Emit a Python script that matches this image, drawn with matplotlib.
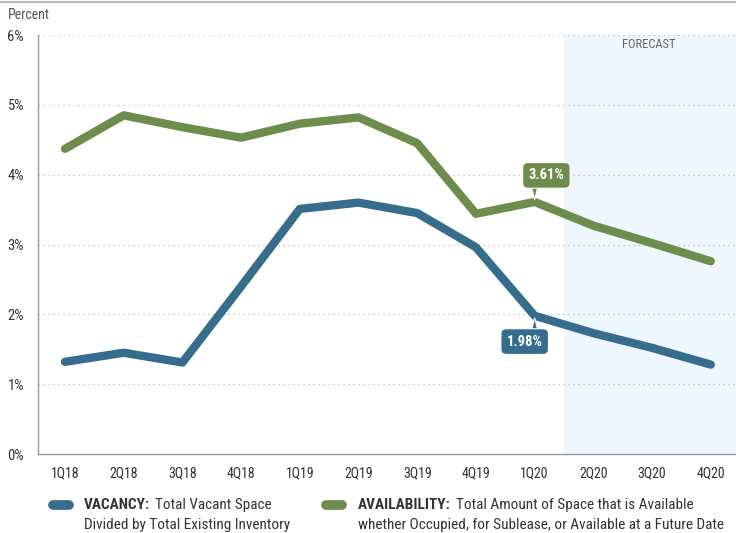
import matplotlib
matplotlib.use("Agg")
import matplotlib.pyplot as plt
from matplotlib import font_manager
from matplotlib.lines import Line2D
from matplotlib.patches import Polygon

quarters = ["1Q18", "2Q18", "3Q18", "4Q18", "1Q19", "2Q19", "3Q19", "4Q19",
            "1Q20", "2Q20", "3Q20", "4Q20"]
vacancy = [1.32, 1.45, 1.31, 2.40, 3.51, 3.60, 3.45, 2.96, 1.98, 1.73, 1.52, 1.28]
availability = [4.37, 4.85, 4.68, 4.53, 4.73, 4.82, 4.45, 3.44, 3.61, 3.27, 3.02, 2.76]
y_ticks = [0, 1, 2, 3, 4, 5, 6]
y_labels = ["0%", "1%", "2%", "3%", "4%", "5%", "6%"]

names = {f.name for f in font_manager.fontManager.ttflist}
cond = "Roboto Condensed" if "Roboto Condensed" in names else "Liberation Sans"
plt.rcParams["font.family"] = [cond, "DejaVu Sans"]

BLUE = "#366c8c"
GREEN = "#6c8d4b"
TXT = "#333333"
GRAY = "#999999"

fig = plt.figure(figsize=(7.36, 5.33), dpi=100)
ax = fig.add_axes([38/736, 1-454/533, 1-38/736, (454-35)/533])

x = list(range(len(quarters)))
ax.axvspan(8.5, 12, color="#eef7fd", zorder=0, lw=0)
for t in y_ticks[1:]:
    ax.axhline(t, color="#bbbbbb", lw=0.9, ls=(0, (1, 3)), zorder=1)

ax.plot(x, availability, color=GREEN, lw=6, solid_capstyle="round",
        solid_joinstyle="round", zorder=3)
ax.plot(x, vacancy, color=BLUE, lw=6, solid_capstyle="round",
        solid_joinstyle="round", zorder=3)

ax.set_xlim(-0.46, 11.43)
ax.set_ylim(0, 6)
ax.set_xticks(x)
ax.set_xticklabels(quarters, fontsize=10, color=TXT)
ax.set_yticks(y_ticks)
ax.set_yticklabels(y_labels, fontsize=10.5, color=TXT)
ax.tick_params(length=0, pad=9)
ax.tick_params(axis="y", pad=10)
for s in ["top", "right"]:
    ax.spines[s].set_visible(False)
for s in ["left", "bottom"]:
    ax.spines[s].set_color(GRAY)
    ax.spines[s].set_linewidth(1)

ax.text(9.95, 5.86, "FORECAST", fontsize=9, color="#666666", ha="center", va="center")

# callouts: rounded box + pointer triangle
def callout(idx, values, color, text, tx, ty, up):
    px, py = ax.transData.transform((idx, values[idx]))
    if up:
        verts = [(px, py + 2), (px - 4, py + 18), (px + 4, py + 18)]
    else:
        verts = [(px, py - 2), (px - 4, py - 18), (px + 4, py - 18)]
    tri = Polygon(verts, closed=True, transform=None, fc=color, ec="white", lw=0.8,
                  zorder=4)
    ax.add_artist(tri)
    ax.text(tx, ty, text, ha="center", va="center", fontsize=10.5, color="white",
            fontweight="bold", zorder=5,
            bbox=dict(boxstyle="round,pad=0.4,rounding_size=0.35", fc=color,
                      ec="white", lw=0.8))

callout(8, availability, GREEN, "3.61%", 8.2, 3.99, True)
callout(8, vacancy, BLUE, "1.98%", 7.83, 1.61, False)

# top rule and Percent label
fig.add_artist(Line2D([0, 1], [1-2/533, 1-2/533], color="#bbbbbb", lw=1.5))
fig.text(8/736, 1-15/533, "Percent", fontsize=10, color="#555555", va="center", ha="left")

# legend
def legend_item(x0, x1, y, color):
    fig.add_artist(Line2D([x0/736, x1/736], [1-y/533, 1-y/533], color=color, lw=7,
                          solid_capstyle="round"))

renderer = fig.canvas.get_renderer()
LFS = 11

def label_line(xpix, ypix, bold, rest):
    t = fig.text(xpix/736, 1-ypix/533, bold, fontsize=LFS, fontweight="bold",
                 color=TXT, va="center")
    w = t.get_window_extent(renderer=renderer).width
    fig.text((xpix + w + 5)/736, 1-ypix/533, rest, fontsize=LFS, color=TXT, va="center")

legend_item(53, 69, 505, BLUE)
legend_item(326, 342, 505, GREEN)
label_line(84, 505, "VACANCY:", "Total Vacant Space")
fig.text(84/736, 1-525/533, "Divided by Total Existing Inventory", fontsize=LFS,
         color=TXT, va="center")
label_line(358, 505, "AVAILABILITY:", "Total Amount of Space that is Available")
fig.text(358/736, 1-525/533, "whether Occupied, for Sublease, or Available at a Future Date",
         fontsize=LFS, color=TXT, va="center")

fig.savefig("out.png", dpi=100)
